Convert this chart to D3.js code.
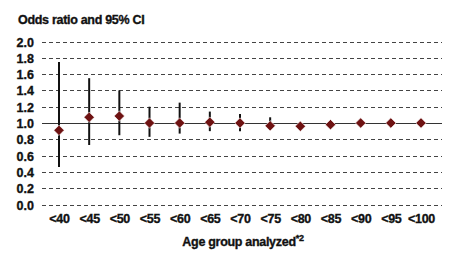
<!DOCTYPE html>
<html>
<head>
<meta charset="utf-8">
<script src="https://cdn.jsdelivr.net/npm/d3@7"></script>
<style>
  body { margin: 0; background: #fff; }
  text { font-family: "Liberation Sans", Arial, sans-serif; font-weight: bold; fill: #111; stroke: #111; stroke-width: 0.35px; }
</style>
</head>
<body>
<div id="chart"></div>
<script>
    // data
    const groups = ["<40", "<45", "<50", "<55", "<60", "<65", "<70", "<75", "<80", "<85", "<90", "<95", "<100"];
    const oddsRatio = [0.91, 1.07, 1.085, 1.0, 1.0, 1.01, 1.0, 0.965, 0.96, 0.98, 1.0, 1.0, 1.0];
    const ciLow  = [0.46, 0.73, 0.85, 0.83, 0.87, 0.90, 0.90, 0.93, 0.95, 0.97, 0.99, 0.99, 0.99];
    const ciHigh = [1.75, 1.55, 1.40, 1.20, 1.25, 1.14, 1.11, 1.07, 0.98, 0.99, 1.01, 1.01, 1.01];
    const yTicks = [0, 0.2, 0.4, 0.6, 0.8, 1.0, 1.2, 1.4, 1.6, 1.8, 2.0];

    const W = 459, H = 264;
    const svg = d3.select("#chart").append("svg")
        .attr("width", W)
        .attr("height", H);

    const x = d3.scalePoint()
        .domain(groups)
        .range([59, 421]);

    const y = d3.scaleLinear()
        .domain([0, 2])
        .range([204.5, 41.5]);

    const gridLeft = 42, gridRight = 442;

    // title
    svg.append("text")
        .attr("x", 18)
        .attr("y", 24)
        .style("font-size", "12.5px")
        .style("letter-spacing", "-0.3px")
        .text("Odds ratio and 95% CI");

    // gridlines
    svg.selectAll(".grid")
        .data(yTicks.filter(d => d !== 1))
        .enter()
        .append("line")
            .attr("x1", gridLeft)
            .attr("x2", gridRight)
            .attr("y1", d => Math.round(y(d)) + 0.5)
            .attr("y2", d => Math.round(y(d)) + 0.5)
            .attr("stroke", "#444")
            .attr("stroke-width", 1)
            .attr("stroke-dasharray", "4,3");

    // reference line at 1.0
    svg.append("line")
        .attr("x1", gridLeft)
        .attr("x2", gridRight)
        .attr("y1", Math.round(y(1)) + 0.5)
        .attr("y2", Math.round(y(1)) + 0.5)
        .attr("stroke", "#333")
        .attr("stroke-width", 1.2);

    // y axis labels
    svg.append("g")
        .attr("transform", `translate(${gridLeft - 8},0)`)
        .call(d3.axisLeft(y).tickValues(yTicks).tickFormat(d3.format(".1f")).tickSize(0).tickPadding(0))
        .call(g => g.select(".domain").remove())
        .call(g => g.selectAll("text")
            .attr("dy", "0.36em")
            .style("font-size", "12.5px")
            .style("font-family", "Liberation Sans, Arial, sans-serif")
            .style("font-weight", "bold")
            .attr("fill", "#111"));

    const idx = d3.range(groups.length);

    // CI whiskers
    svg.selectAll(".ci")
        .data(idx)
        .enter()
        .append("line")
            .attr("x1", i => x(groups[i]))
            .attr("x2", i => x(groups[i]))
            .attr("y1", i => y(ciLow[i]))
            .attr("y2", i => y(ciHigh[i]))
            .attr("stroke", "#111")
            .attr("stroke-width", 2);

    // point estimates
    svg.selectAll(".pt")
        .data(idx)
        .enter()
        .append("path")
            .attr("d", d3.symbol(d3.symbolSquare, 54)())
            .attr("transform", i => `translate(${x(groups[i])},${y(oddsRatio[i])}) rotate(45)`)
            .attr("fill", "#6e1212")
            .attr("stroke", "#fff")
            .attr("stroke-width", 0.6);

    // x axis labels
    svg.append("g")
        .attr("transform", `translate(0,223)`)
        .call(d3.axisBottom(x).tickSize(0).tickPadding(0))
        .call(g => g.select(".domain").remove())
        .call(g => g.selectAll("text")
            .attr("dy", 0)
            .style("font-size", "12.5px")
            .style("font-family", "Liberation Sans, Arial, sans-serif")
            .style("font-weight", "bold")
            .style("letter-spacing", "-0.3px")
            .attr("fill", "#111"));

    // x axis title
    const xt = svg.append("text")
        .attr("x", 243)
        .attr("y", 246)
        .attr("text-anchor", "middle")
        .style("font-size", "12.5px")
        .style("letter-spacing", "-0.3px");
    xt.append("tspan").text("Age group analyzed");
    xt.append("tspan").attr("dy", -5).style("font-size", "9px").text("*2");
</script>
</body>
</html>
